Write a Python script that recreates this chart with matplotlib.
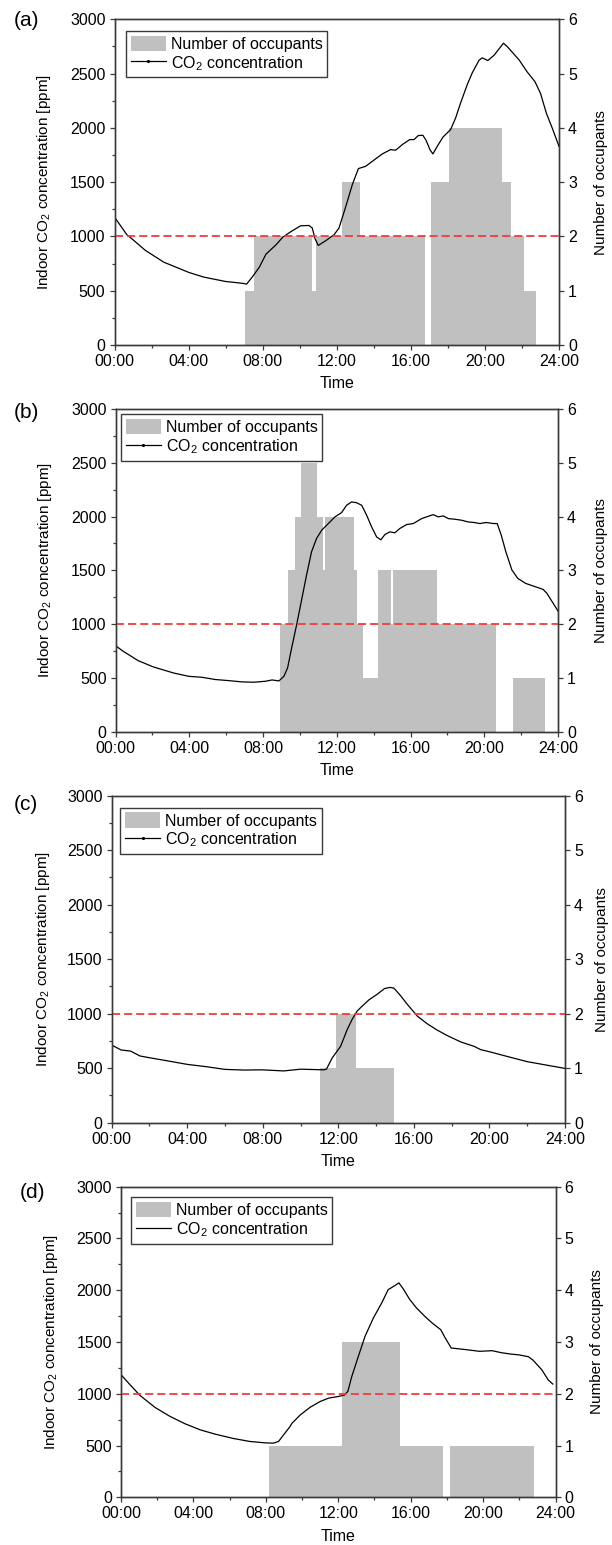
import numpy as np
import matplotlib
matplotlib.use('Agg')
import matplotlib.pyplot as plt
from matplotlib.patches import Patch
from matplotlib.lines import Line2D
from matplotlib.ticker import MultipleLocator, FuncFormatter

plt.rcParams['font.family'] = ['Liberation Sans', 'DejaVu Sans']
plt.rcParams['mathtext.fontset'] = 'custom'
plt.rcParams['mathtext.rm'] = 'Liberation Sans'
plt.rcParams['mathtext.it'] = 'Liberation Sans:italic'

# ---- panel (a) ----
co2_a_t = [0, 0.67, 0.94, 1.67, 2.66, 4.02, 4.83, 6.0, 6.55, 7.0, 7.13, 7.46, 7.82, 8.18, 8.72,
           9.09, 9.54, 10.05, 10.5, 10.68, 10.83, 11.0, 11.4, 11.85, 12.12, 12.48, 12.84, 13.17,
           13.56, 14.0, 14.46, 14.91, 15.18, 15.54, 15.94, 16.17, 16.4, 16.65, 16.83, 17.03, 17.19,
           17.43, 17.73, 18.15, 18.42, 18.69, 19.05, 19.32, 19.68, 19.85, 20.16, 20.5, 21.0, 21.2,
           21.85, 22.27, 22.7, 23.0, 23.32, 23.64, 24.0]
co2_a = [1178, 1015, 978, 871, 763, 668, 625, 585, 575, 566, 560, 631, 717, 837, 923,
         994, 1046, 1098, 1101, 1077, 978, 917, 960, 1015, 1077, 1271, 1477, 1625,
         1646, 1702, 1760, 1800, 1794, 1846, 1892, 1892, 1929, 1932, 1883, 1800, 1760,
         1831, 1914, 1985, 2092, 2231, 2400, 2508, 2622, 2645, 2620, 2670, 2780, 2750,
         2625, 2518, 2426, 2318, 2134, 1996, 1830]
occ_a_edges = [7.06, 7.54, 10.65, 10.9, 12.27, 13.27, 16.78, 17.07, 18.07, 20.92, 21.43, 22.10, 22.77]
occ_a = [1, 2, 1, 2, 3, 2, 0, 3, 4, 3, 2, 1]

# ---- panel (b) ----
co2_b_t = [0, 0.42, 1.23, 2.05, 3.14, 3.96, 4.68, 5.41, 6.13, 6.86, 7.5, 8.13, 8.49, 8.86, 9.13,
           9.33, 9.55, 9.82, 10.09, 10.36, 10.63, 10.9, 11.18, 11.54, 11.9, 12.26, 12.53, 12.8,
           13.07, 13.35, 13.62, 13.89, 14.16, 14.39, 14.61, 14.88, 15.15, 15.42, 15.79, 16.15,
           16.6, 16.87, 17.23, 17.5, 17.78, 18.05, 18.41, 18.77, 19.13, 19.49, 19.76, 20.1, 20.5,
           20.7, 20.92, 21.17, 21.5, 21.82, 22.24, 22.77, 23.19, 23.4, 24.0]
co2_b = [799, 747, 660, 602, 546, 515, 506, 485, 475, 463, 460, 469, 481, 472, 515,
         593, 778, 994, 1225, 1457, 1673, 1796, 1873, 1935, 1997, 2037, 2105, 2136,
         2129, 2105, 2012, 1904, 1811, 1784, 1833, 1858, 1849, 1889, 1926, 1935,
         1981, 1997, 2018, 1997, 2006, 1981, 1975, 1966, 1950, 1944, 1935, 1945, 1935,
         1935, 1828, 1673, 1503, 1425, 1379, 1348, 1323, 1286, 1122]
occ_b_edges = [8.91, 9.37, 9.73, 10.05, 10.94, 11.27, 11.36, 12.93, 13.11, 13.44, 14.21, 14.94,
               15.03, 17.45, 20.65, 21.58, 23.30]
occ_b = [2, 3, 4, 5, 4, 3, 4, 3, 2, 1, 3, 2, 3, 2, 0, 1]

# ---- panel (c) ----
co2_c_t = [0, 0.5, 1.0, 1.5, 2.0, 3.0, 4.0, 5.0, 6.0, 7.0, 7.96, 9.11, 10.0, 11.23, 11.37, 11.67,
           12.12, 12.47, 12.73, 13.0, 13.27, 13.62, 14.06, 14.45, 14.73, 14.94, 15.3, 15.65, 16.18,
           16.71, 17.24, 17.77, 18.48, 19.18, 19.54, 20.0, 21.0, 22.0, 23.0, 24.0]
co2_c = [712, 667, 657, 612, 596, 566, 535, 514, 489, 483, 485, 475, 491, 485, 491, 593,
         701, 855, 948, 1025, 1071, 1127, 1179, 1231, 1241, 1235, 1164, 1086, 978,
         907, 849, 799, 741, 701, 670, 651, 605, 560, 529, 498]
occ_c_edges = [11.05, 11.9, 12.93, 14.92]
occ_c = [1, 2, 1]

# ---- panel (d) ----
co2_d_t = [0, 0.5, 1.05, 1.88, 2.71, 3.54, 4.37, 5.2, 6.21, 7.13, 7.96, 8.42, 8.7, 8.98, 9.31,
           9.45, 9.91, 10.46, 11.01, 11.47, 12.01, 12.34, 12.53, 12.75, 13.11, 13.48, 13.94, 14.4,
           14.76, 15.13, 15.35, 15.59, 15.95, 16.32, 16.78, 17.23, 17.66, 17.88, 18.24, 18.61,
           19.07, 19.8, 20.5, 21.0, 21.5, 22.0, 22.5, 22.75, 23.25, 23.6, 23.85]
co2_d = [1184, 1087, 984, 868, 781, 710, 652, 610, 568, 539, 526, 523, 539, 603, 677,
         716, 797, 871, 926, 958, 974, 987, 1023, 1168, 1361, 1555, 1732, 1877,
         2006, 2045, 2071, 2013, 1910, 1829, 1748, 1677, 1619, 1548, 1442, 1435,
         1426, 1410, 1416, 1397, 1384, 1375, 1358, 1326, 1230, 1133, 1094]
occ_d_edges = [8.2, 12.23, 15.43, 17.76, 18.2, 22.79]
occ_d = [1, 3, 1, 0, 1]

panels = [
    ('(a)', co2_a_t, co2_a, occ_a_edges, occ_a),
    ('(b)', co2_b_t, co2_b, occ_b_edges, occ_b),
    ('(c)', co2_c_t, co2_c, occ_c_edges, occ_c),
    ('(d)', co2_d_t, co2_d, occ_d_edges, occ_d),
]

W, H = 612, 1545
# axes boxes in pixels: left, top, right, bottom
boxes = [(114.5, 19.3, 559, 345), (115.6, 409, 558, 731.7),
         (111.7, 795.7, 565, 1122.7), (121, 1186.7, 555.5, 1497.3)]
legend_xy = [(126, 31), (121, 414.3), (120.3, 807.7), (130.9, 1197.3)]
tag_xy = [(14, 20), (14, 412), (14, 805), (20, 1192)]
ylab_left = [44, 45, 43, 51]
ylab_right = [601, 601, 602, 597]

spine_col = '#3a3a3a'
bar_col = '#c0c0c0'
fs = 11.5

fig = plt.figure(figsize=(W / 100, H / 100), dpi=100)

for i, (tag, t, co2, edges, occ) in enumerate(panels):
    l, tp, r, b = boxes[i]
    ax = fig.add_axes([l / W, 1 - b / H, (r - l) / W, (b - tp) / H])
    ax2 = ax.twinx()
    ax.set_zorder(ax2.get_zorder() + 1)
    ax.patch.set_visible(False)

    edges = np.array(edges)
    ax2.bar(edges[:-1], occ, width=np.diff(edges), align='edge', color=bar_col, linewidth=0)
    ax.plot(t, co2, color='black', lw=0.9)
    ax.axhline(1000, color='#f03c3c', lw=1.3, ls=(0, (4.5, 2.2)))

    ax.set_xlim(0, 24)
    ax.set_ylim(0, 3000)
    ax2.set_ylim(0, 6)
    ax.xaxis.set_major_locator(MultipleLocator(4))
    ax.xaxis.set_minor_locator(MultipleLocator(2))
    ax.xaxis.set_major_formatter(FuncFormatter(lambda v, p: f"{int(round(v)):02d}:00"))
    ax.yaxis.set_major_locator(MultipleLocator(500))
    ax.yaxis.set_minor_locator(MultipleLocator(250))
    ax2.yaxis.set_major_locator(MultipleLocator(1))

    for a in (ax, ax2):
        for s in a.spines.values():
            s.set_color(spine_col)
            s.set_linewidth(1.0)
    ax.tick_params(which='both', direction='out', color=spine_col, width=0.9,
                   labelsize=fs, top=False, right=False, pad=3)
    ax.tick_params(which='major', length=3.5)
    ax.tick_params(which='minor', length=2.2)
    ax2.tick_params(which='both', direction='out', color=spine_col, width=0.9,
                    labelsize=fs, length=3.5, pad=3)

    ax.set_xlabel('Time', fontsize=fs)
    ax.set_ylabel('Indoor CO$_2$ concentration [ppm]', fontsize=11)
    ax2.set_ylabel('Number of occupants', fontsize=11)
    aw, ah = r - l, b - tp
    ax.xaxis.set_label_coords(0.5, -39 / ah)
    ax.xaxis.label.set_va('center')
    ax.yaxis.set_label_coords((ylab_left[i] - l) / aw, 0.5)
    ax.yaxis.label.set_va('center')
    ax2.yaxis.set_label_coords((ylab_right[i] - l) / aw, 0.5)
    ax2.yaxis.label.set_va('center')

    handles = [Patch(facecolor=bar_col, edgecolor='none'),
               Line2D([], [], color='black', lw=0.9,
                      marker='.' if i < 3 else None, markersize=2.5)]
    lx, ly = legend_xy[i]
    leg = ax.legend(handles, ['Number of occupants', 'CO$_2$ concentration'],
                    loc='upper left', bbox_to_anchor=((lx - l) / aw, 1 - (ly - tp) / ah),
                    borderaxespad=0, fancybox=False, framealpha=1, edgecolor=spine_col,
                    fontsize=fs, handlelength=2.2, handleheight=1.1, handletextpad=0.3,
                    borderpad=0.3, labelspacing=0.12)
    leg.get_frame().set_linewidth(1.0)

    fig.text(tag_xy[i][0] / W, 1 - tag_xy[i][1] / H, tag, fontsize=15,
             ha='left', va='center')

fig.savefig('out.png', dpi=100)
